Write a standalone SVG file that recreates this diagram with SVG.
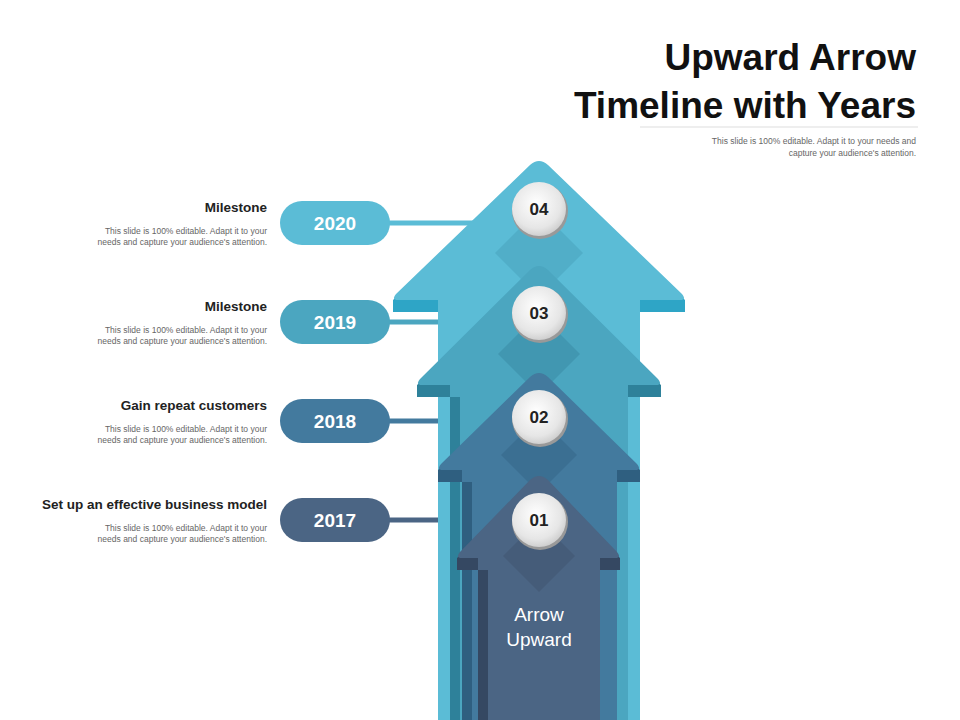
<svg xmlns="http://www.w3.org/2000/svg" width="960" height="720" viewBox="0 0 960 720">
<defs>
<style>
.t{font-family:"Liberation Sans",Arial,sans-serif}
.h{font-size:37px;font-weight:bold;fill:#111;text-anchor:end}
.s{font-size:8.5px;fill:#666;text-anchor:end}
.m{font-size:13.5px;font-weight:bold;fill:#222;text-anchor:end}
.y{font-size:19px;font-weight:bold;fill:#fff;text-anchor:middle}
.n{font-size:17px;font-weight:bold;fill:#222;text-anchor:middle}
</style>
<radialGradient id="cg" cx="0.45" cy="0.4" r="0.65"><stop offset="0" stop-color="#fff"/><stop offset="0.7" stop-color="#e6e6e6"/><stop offset="1" stop-color="#c8c8c8"/></radialGradient>
</defs>
<rect width="960" height="720" fill="#fff"/>
<g id="title" class="t">
<text class="h" x="916" y="70">Upward Arrow</text>
<text class="h" x="916" y="118">Timeline with Years</text>
<line x1="640" y1="127" x2="918" y2="127" stroke="#ddd"/>
<text class="s" x="916" y="144">This slide is 100% editable. Adapt it to your needs and</text>
<text class="s" x="916" y="156">capture your audience's attention.</text>
</g>
<g id="connectors" stroke-width="5">
<line x1="385" y1="223" x2="480" y2="223" stroke="#5BBCD6"/>
<line x1="385" y1="322" x2="490" y2="322" stroke="#4BA6C0"/>
<line x1="385" y1="421" x2="500" y2="421" stroke="#437A9E"/>
<line x1="385" y1="520" x2="510" y2="520" stroke="#4B6584"/>
</g>
<g id="arrow4">
<path d="M438,312 H393 V300 L539,172 L685,300 V312 H640 V720 H438 Z" fill="#2EA5C6"/>
<path d="M438,300 H398 Q391,300 396,294 L530,165 Q539,157 548,165 L682,294 Q687,300 680,300 H640 V720 H438 Z" fill="#5BBCD6"/>
<path d="M539,209 L583,253 L539,297 L495,253 Z" fill="#4FAAC4" opacity="0.8"/>
</g>
<g id="arrow3">
<path d="M450,397 H417 V385 L539,277 L661,385 V397 H628 V720 H450 Z" fill="#2E819A"/>
<path d="M450,385 H422 Q415,385 420,379 L530,270 Q539,262 548,270 L658,379 Q663,385 656,385 H628 V720 H450 Z" fill="#4BA6C0"/>
<path d="M460,397 H450 V720 H460 Z" fill="#2E819A"/>
<path d="M539,313 L580,354 L539,395 L498,354 Z" fill="#3F93AD" opacity="0.8"/>
</g>
<g id="arrow2">
<path d="M462,482 H438 V470 L539,384 L640,470 V482 H617 V720 H462 Z" fill="#2F5F80"/>
<path d="M462,470 H443 Q436,470 441,464 L530,377 Q539,369 548,377 L637,464 Q642,470 635,470 H617 V720 H462 Z" fill="#437A9E"/>
<path d="M472,482 H462 V720 H472 Z" fill="#2F5F80"/>
<path d="M539,417 L577,455 L539,493 L501,455 Z" fill="#3A6D8F" opacity="0.8"/>
</g>
<g id="arrow1">
<path d="M478,570 H457 V558 L539,487 L620,558 V570 H600 V720 H478 Z" fill="#354862"/>
<path d="M478,558 H462 Q455,558 460,552 L530,480 Q539,472 548,480 L617,552 Q622,558 615,558 H600 V720 H478 Z" fill="#4B6584"/>
<path d="M488,570 H478 V720 H488 Z" fill="#354862"/>
<path d="M539,520 L575,556 L539,592 L503,556 Z" fill="#435A77" opacity="0.8"/>
<text class="t" x="539" y="621" font-size="19" fill="#fff" text-anchor="middle">Arrow</text>
<text class="t" x="539" y="646" font-size="19" fill="#fff" text-anchor="middle">Upward</text>
</g>
<g id="badges" class="t">
<g id="b4"><circle cx="540" cy="211" r="28" fill="#999"/><circle cx="539" cy="209" r="27" fill="url(#cg)"/><text class="n" x="539" y="215">04</text></g>
<g id="b3"><circle cx="540" cy="315" r="28" fill="#999"/><circle cx="539" cy="313" r="27" fill="url(#cg)"/><text class="n" x="539" y="319">03</text></g>
<g id="b2"><circle cx="540" cy="419" r="28" fill="#999"/><circle cx="539" cy="417" r="27" fill="url(#cg)"/><text class="n" x="539" y="423">02</text></g>
<g id="b1"><circle cx="540" cy="522" r="28" fill="#999"/><circle cx="539" cy="520" r="27" fill="url(#cg)"/><text class="n" x="539" y="526">01</text></g>
</g>
<g id="m2020" class="t">
<rect x="280" y="201" width="110" height="44" rx="22" fill="#5BBCD6"/><text class="y" x="335" y="230">2020</text>
<text class="m" x="267" y="212">Milestone</text>
<text class="s" x="267" y="234">This slide is 100% editable. Adapt it to your</text>
<text class="s" x="267" y="245">needs and capture your audience's attention.</text>
</g>
<g id="m2019" class="t">
<rect x="280" y="300" width="110" height="44" rx="22" fill="#4BA6C0"/><text class="y" x="335" y="329">2019</text>
<text class="m" x="267" y="311">Milestone</text>
<text class="s" x="267" y="333">This slide is 100% editable. Adapt it to your</text>
<text class="s" x="267" y="344">needs and capture your audience's attention.</text>
</g>
<g id="m2018" class="t">
<rect x="280" y="399" width="110" height="44" rx="22" fill="#437A9E"/><text class="y" x="335" y="428">2018</text>
<text class="m" x="267" y="410">Gain repeat customers</text>
<text class="s" x="267" y="432">This slide is 100% editable. Adapt it to your</text>
<text class="s" x="267" y="443">needs and capture your audience's attention.</text>
</g>
<g id="m2017" class="t">
<rect x="280" y="498" width="110" height="44" rx="22" fill="#4B6584"/><text class="y" x="335" y="527">2017</text>
<text class="m" x="267" y="509">Set up an effective business model</text>
<text class="s" x="267" y="531">This slide is 100% editable. Adapt it to your</text>
<text class="s" x="267" y="542">needs and capture your audience's attention.</text>
</g>
</svg>
